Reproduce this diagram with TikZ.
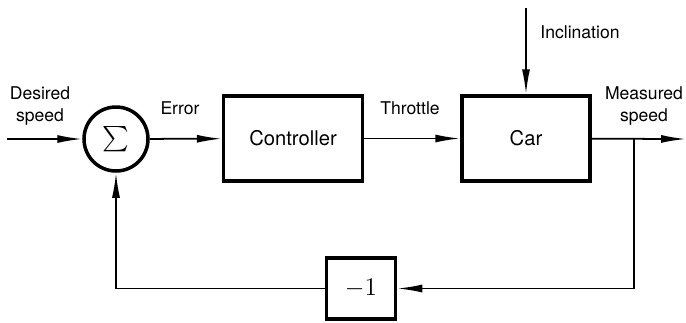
\documentclass[tikz,border=0pt]{standalone}
\usepackage{amsmath}
\usepackage{fontspec}
\setmainfont{TeX Gyre Heros}
\usetikzlibrary{arrows.meta}

\begin{document}
\begin{tikzpicture}[x=0.02cm,y=-0.02cm,
    blk/.style={draw,line width=2pt,inner sep=0pt,font=\fontsize{11.5}{13}\selectfont},
    lbl/.style={font=\fontsize{10}{12.5}\selectfont,align=center},
    sig/.style={-{Latex[length=5mm,width=1.6mm]},line width=1pt}]
  \useasboundingbox (0,0) rectangle (686,322);
  % blocks
  \node[blk,circle,minimum size=1.28cm,font=\fontsize{14}{16}\selectfont] (sum) at (116,139) {$\sum$};
  \node[blk,minimum width=2.78cm,minimum height=1.7cm] (ctrl) at (293,138.5) {Controller};
  \node[blk,minimum width=2.56cm,minimum height=1.7cm] (car) at (526,138.5) {Car};
  \node[blk,minimum width=1.38cm,minimum height=1.22cm,font=\fontsize{14}{16}\selectfont] (fb) at (361,288.5) {$-1$};
  % free ends
  \coordinate (in) at (7,139);
  \coordinate (out) at (686,139);
  \coordinate (incl) at (526,8);
  \coordinate (br) at (634,139);
  % signals
  \draw[sig] (in) -- (sum);
  \draw[sig] (sum) -- (ctrl);
  \draw[sig] (ctrl) -- (car);
  \draw[sig] (incl) -- (car);
  \draw[sig] (car) -- (out);
  \draw[sig] (br) |- (fb);
  \draw[sig] (fb) -| (sum);
  % labels
  \node[lbl] (des) at (40,106) {Desired\\speed};
  \node[lbl] (err) at (180,108) {Error};
  \node[lbl] (thr) at (410,108) {Throttle};
  \node[lbl] (inc) at (580,32) {Inclination};
  \node[lbl] (meas) at (644,106) {Measured\\speed};
\end{tikzpicture}
\end{document}
